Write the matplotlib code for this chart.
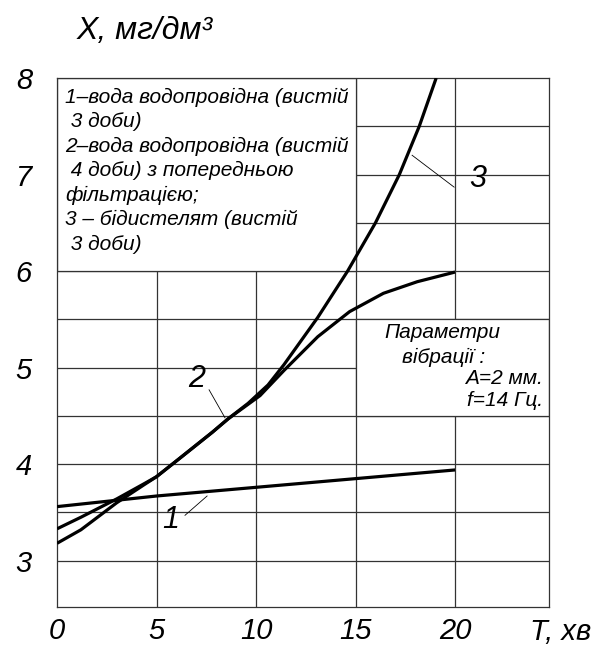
import matplotlib
matplotlib.use("Agg")
import matplotlib.pyplot as plt
from matplotlib.patches import Rectangle

plt.rcParams['font.family'] = ['Liberation Sans', 'DejaVu Sans']
plt.rcParams['font.style'] = 'italic'

# curve 1 - tap water (settled 3 days)
t1 = [0, 5, 10, 15, 20]
x1 = [3.56, 3.67, 3.76, 3.85, 3.94]

# curve 2 - tap water with pre-filtration
t2 = [0, 1.2, 3.0, 4.4, 5.0, 6.1, 7.8, 8.6, 10.2, 11.4, 13.1, 14.7, 16.4, 18.1, 20.0]
x2 = [3.33, 3.45, 3.64, 3.80, 3.87, 4.05, 4.33, 4.47, 4.71, 4.97, 5.32, 5.58, 5.77, 5.89, 5.99]

# curve 3 - bidistillate
t3 = [0, 1.2, 3.0, 4.4, 5.0, 6.1, 7.8, 8.6, 9.6, 10.6, 11.4, 13.1, 14.6, 16.0, 17.2, 18.2, 19.05]
x3 = [3.18, 3.32, 3.60, 3.79, 3.87, 4.05, 4.33, 4.47, 4.63, 4.82, 5.03, 5.52, 6.0, 6.5, 7.0, 7.5, 8.0]

xticks = [0, 5, 10, 15, 20]
yticks = [3, 4, 5, 6, 7, 8]

legend_text = ("1–вода водопровідна (вистій\n 3 доби)\n"
               "2–вода водопровідна (вистій\n 4 доби) з попередньою\n"
               "фільтрацією;\n3 – бідистелят (вистій\n 3 доби)")

fig = plt.figure(figsize=(6.04, 6.47), dpi=100)
ax = fig.add_axes([0.0944, 0.0618, 0.8146, 0.8176])
ax.set_xlim(0, 24.72)
ax.set_ylim(2.52, 8)

grid_c = '#333333'
for gx in [5, 10, 15, 20]:
    ax.axvline(gx, color=grid_c, lw=0.9, zorder=1)
for gy in [3, 3.5, 4, 4.5, 5, 5.5, 6, 6.5, 7, 7.5]:
    ax.axhline(gy, color=grid_c, lw=0.9, zorder=1)
for s in ax.spines.values():
    s.set_color(grid_c)
    s.set_linewidth(0.9)

# white boxes that hide the grid under the captions
ax.add_patch(Rectangle((0, 6), 15, 2, facecolor='white', edgecolor=grid_c, lw=0.9, zorder=2))
ax.add_patch(Rectangle((15, 4.5), 9.72, 1, facecolor='white', edgecolor=grid_c, lw=0.9, zorder=2))

for t, x in [(t1, x1), (t2, x2), (t3, x3)]:
    ax.plot(t, x, color='black', lw=2.3, solid_capstyle='butt',
            solid_joinstyle='round', zorder=3)

# leader lines and curve numbers
ax.plot([7.64, 8.44], [4.77, 4.48], color='black', lw=0.6, zorder=3)
ax.plot([6.43, 7.54], [3.47, 3.67], color='black', lw=0.6, zorder=3)
ax.plot([17.84, 19.95], [7.2, 6.87], color='black', lw=0.6, zorder=3)
ax.text(7.0, 4.88, "2", fontsize=22, ha='center', va='center', zorder=4)
ax.text(5.73, 3.42, "1", fontsize=22, ha='center', va='center', zorder=4)
ax.text(21.16, 6.95, "3", fontsize=22, ha='center', va='center', zorder=4)

ax.text(0.4, 7.9, legend_text, fontsize=15, ha='left', va='top',
        linespacing=1.36, zorder=4)
ax.text(19.35, 5.36, "Параметри", fontsize=15, ha='center', va='center', zorder=4)
ax.text(19.4, 5.10, "вібрації :", fontsize=15, ha='center', va='center', zorder=4)
ax.text(24.42, 4.89, "A=2 мм.", fontsize=15, ha='right', va='center', zorder=4)
ax.text(24.42, 4.66, "f=14 Гц.", fontsize=15, ha='right', va='center', zorder=4)

ax.set_xticks(xticks)
ax.set_xticklabels([str(v) for v in xticks], fontsize=21)
ax.set_yticks(yticks)
ax.set_yticklabels([str(v) for v in yticks], fontsize=21)
ax.tick_params(axis='x', length=0, pad=7)
ax.tick_params(axis='y', length=0, pad=18)

fig.text(77 / 604, 1 - 31 / 647, "X, мг/дм³", fontsize=23, ha='left', va='center')
fig.text(561 / 604, 1 - 632 / 647, "T, хв", fontsize=21, ha='center', va='center')

fig.savefig("out.png", dpi=100)
